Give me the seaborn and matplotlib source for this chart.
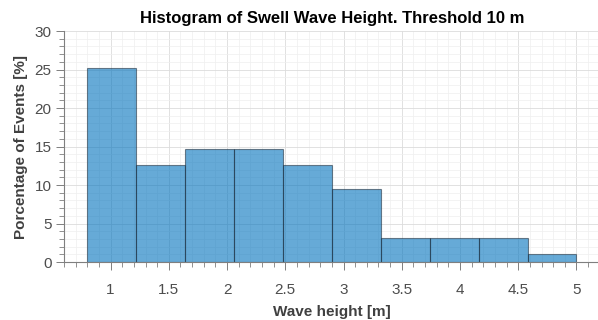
import numpy as np
import matplotlib
matplotlib.use('Agg')
import matplotlib.pyplot as plt
import seaborn as sns
from matplotlib.ticker import MultipleLocator

# percentage of events per wave-height bin (95 events)
bin_edges = [0.8, 1.22, 1.64, 2.06, 2.48, 2.90, 3.32, 3.74, 4.16, 4.58, 5.0]
pct_events = [25.26, 12.63, 14.74, 14.74, 12.63, 9.47, 3.16, 3.16, 3.16, 1.05]
x_ticks = [1, 1.5, 2, 2.5, 3, 3.5, 4, 4.5, 5]
x_tick_labels = ['1', '1.5', '2', '2.5', '3', '3.5', '4', '4.5', '5']
y_ticks = [0, 5, 10, 15, 20, 25, 30]

centers = [(a + b) / 2 for a, b in zip(bin_edges[:-1], bin_edges[1:])]

sns.set_style('white')
plt.rcParams['font.family'] = ['Liberation Sans', 'DejaVu Sans']

fig = plt.figure(figsize=(5.98, 3.2), dpi=100)
ax = fig.add_axes([0.107, 0.181, 0.896, 0.722])

sns.histplot(x=centers, weights=pct_events, bins=bin_edges, ax=ax,
             color='#0072BD', alpha=0.6, edgecolor=(0.1, 0.15, 0.2, 0.55), linewidth=0.8)

ax.set_xlim(0.6, 5.2)
ax.set_ylim(0, 30)
ax.set_xticks(x_ticks)
ax.set_xticklabels(x_tick_labels)
ax.set_yticks(y_ticks)
ax.xaxis.set_minor_locator(MultipleLocator(0.1))
ax.yaxis.set_minor_locator(MultipleLocator(1))

ax.grid(True, which='major', color='#dcdcdc', linewidth=0.6)
ax.grid(True, which='minor', color='#efefef', linewidth=0.5)
ax.set_axisbelow(True)

for s in ['top', 'right']:
    ax.spines[s].set_visible(False)
for s in ['left', 'bottom']:
    ax.spines[s].set_color('#7f7f7f')
    ax.spines[s].set_linewidth(0.8)

ax.tick_params(axis='both', which='major', direction='out', length=6, width=0.7,
               color='#7f7f7f', labelcolor='#4d4d4d', labelsize=11,
               left=True, bottom=True)
ax.tick_params(axis='both', which='minor', direction='out', length=3.5, width=0.6,
               color='#7f7f7f', left=True, bottom=True)
ax.tick_params(axis='x', which='major', pad=9)
ax.tick_params(axis='y', which='major', pad=3)

ax.set_title('Histogram of Swell Wave Height. Threshold 10 m', fontsize=12,
             fontweight='bold', color='black', pad=6)
ax.set_xlabel('Wave height [m]', fontsize=11, fontweight='bold', color='#404040', labelpad=6)
ax.set_ylabel('Porcentage of Events [%]', fontsize=11, fontweight='bold', color='#404040', labelpad=5)

fig.savefig('out.png', dpi=100)
